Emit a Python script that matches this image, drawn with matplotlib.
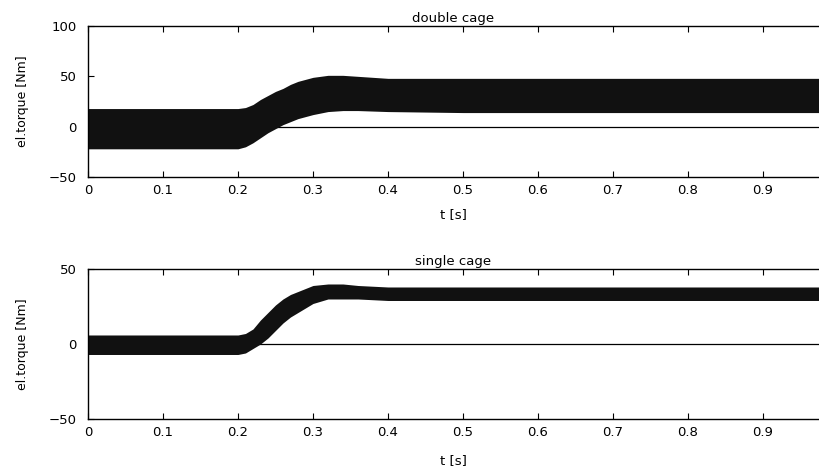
"""Electrical torque of double- and single-cage induction motor, envelope sketch."""

import matplotlib

matplotlib.use("Agg")
import matplotlib.pyplot as plt

# envelope of the oscillating torque
t_double = [0.0, 0.20, 0.21, 0.22, 0.23, 0.24, 0.25, 0.26, 0.27, 0.28, 0.29,
            0.30, 0.32, 0.34, 0.36, 0.40, 0.50, 0.60, 0.70, 0.80, 0.90, 0.975]
upper_double = [18, 18, 19, 22, 27, 31, 35, 38, 42, 45, 47,
                49, 51, 51, 50, 48, 48, 48, 48, 48, 48, 48]
lower_double = [-22, -22, -20, -16, -11, -6, -2, 2, 5, 8, 10,
                12, 15, 16, 16, 15, 14, 14, 14, 14, 14, 14]

t_single = [0.0, 0.20, 0.21, 0.22, 0.23, 0.24, 0.25, 0.26, 0.27, 0.28, 0.29,
            0.30, 0.32, 0.34, 0.36, 0.40, 0.50, 0.60, 0.70, 0.80, 0.90, 0.975]
upper_single = [6, 6, 7, 10, 16, 21, 26, 30, 33, 35, 37,
                39, 40, 40, 39, 38, 38, 38, 38, 38, 38, 38]
lower_single = [-7, -7, -6, -3, 0, 4, 9, 14, 18, 21, 24,
                27, 30, 30, 30, 29, 29, 29, 29, 29, 29, 29]

x_ticks = [0, 0.1, 0.2, 0.3, 0.4, 0.5, 0.6, 0.7, 0.8, 0.9]
x_ticklabels = ["0", "0.1", "0.2", "0.3", "0.4", "0.5", "0.6", "0.7", "0.8", "0.9"]
y_ticks_double = [-50, 0, 50, 100]
y_ticks_single = [-50, 0, 50]

plt.rcParams.update({"font.family": "DejaVu Sans", "font.size": 9.5})

fig = plt.figure(figsize=(8.19, 4.73), dpi=100)
ax_top = fig.add_axes([0.1074, 0.6258, 0.8926, 0.3192])
ax_bot = fig.add_axes([0.1074, 0.1142, 0.8926, 0.3171])

panels = [
    (ax_top, t_double, upper_double, lower_double, "double cage", (-50, 100), y_ticks_double, 8),
    (ax_bot, t_single, upper_single, lower_single, "single cage", (-50, 50), y_ticks_single, 11),
]

for ax, t, up, lo, title, ylim, yticks, xpad in panels:
    ax.axhline(0, color="black", linewidth=0.9, zorder=1)
    ax.fill_between(t, lo, up, color="#111111", linewidth=0, zorder=2)
    ax.set_xlim(0, 0.9747)
    ax.set_ylim(*ylim)
    ax.set_xticks(x_ticks)
    ax.set_xticklabels(x_ticklabels)
    ax.set_yticks(yticks)
    ax.tick_params(direction="in", length=4, width=0.8, top=True, right=False, pad=5)
    ax.tick_params(axis="y", pad=8)
    ax.spines["right"].set_visible(False)
    for side in ("left", "top", "bottom"):
        ax.spines[side].set_linewidth(1.0)
    ax.set_title(title, fontsize=9.5, pad=3)
    ax.set_xlabel("t [s]", labelpad=xpad)
    ax.set_ylabel("el.torque [Nm]", fontsize=9, labelpad=14)

fig.savefig("out.png", dpi=100)
